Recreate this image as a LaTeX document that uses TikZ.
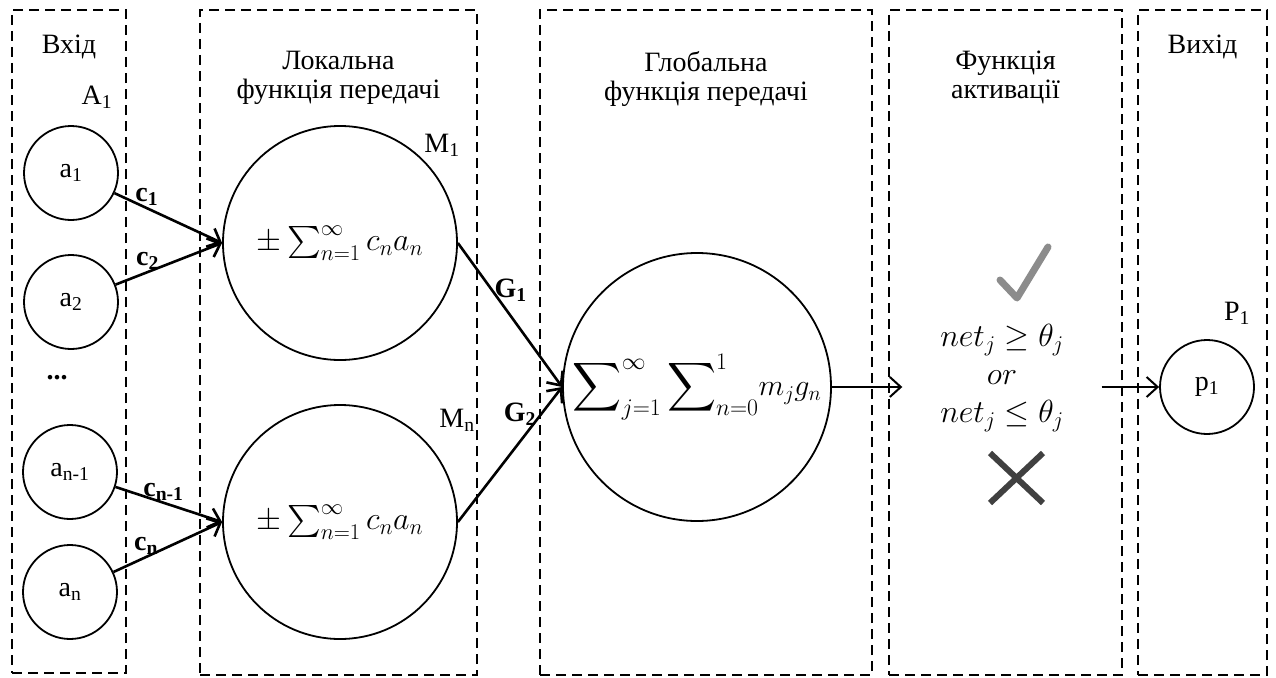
\RequirePackage{fix-cm}
\documentclass[tikz,border=0pt]{standalone}
\DeclareFontShape{OMX}{cmex}{m}{n}{<-> cmex10}{}
\usepackage{fontspec}
\setmainfont{Liberation Serif}
\usetikzlibrary{positioning, arrows.meta}

\begin{document}
\begin{tikzpicture}[x=1pt, y=-1pt, node distance=20pt,
    >={Straight Barb[length=11pt,width=20pt]}]

% Стилі
\tikzstyle{box} = [rectangle, draw, line width=2.2pt,
    dash pattern=on 10pt off 6pt, inner sep=0pt]
\tikzstyle{title} = [font=\fontsize{28}{29}\selectfont, align=center, inner sep=0pt]
\tikzstyle{neuron} = [circle, draw, line width=1.8pt, inner sep=0pt,
    font=\fontsize{28}{30}\selectfont]
\tikzstyle{lbl} = [font=\fontsize{28}{30}\selectfont, inner sep=1pt]
\tikzstyle{wlbl} = [font=\bfseries\fontsize{28}{30}\selectfont, inner sep=1pt]
\tikzstyle{arrow} = [line width=2.6pt, ->]

\useasboundingbox (0,0) rectangle (1276,677);

% Блоки
\node (inbox) [box, minimum width=114, minimum height=663] at (69,341.5) {};
\node (locbox) [box, minimum width=277, minimum height=665] at (338.5,342.5) {};
\node (globbox) [box, minimum width=332, minimum height=665] at (706,342.5) {};
\node (actbox) [box, minimum width=233, minimum height=665] at (1005.5,342.5) {};
\node (outbox) [box, minimum width=129, minimum height=665] at (1202.5,342.5) {};

\node (intitle) [title, below=26pt of inbox.north] {Вхід};
\node (loctitle) [title, below=42pt of locbox.north] {Локальна\\функція передачі};
\node (globtitle) [title, below=42pt of globbox.north] {Глобальна\\функція передачі};
\node (acttitle) [title, below=42pt of actbox.north] {Функція\\активації};
\node (outtitle) [title, below=26pt of outbox.north] {Вихід};

% Нейрони
\node (a1) [neuron, minimum size=94] at (71,173) {a\textsubscript{1}};
\node (a2) [neuron, minimum size=94] at (71,302) {a\textsubscript{2}};
\node (dots) [lbl] at (57,378) {\textbf{...}};
\node (an1) [neuron, minimum size=94] at (70,472) {a\textsubscript{n-1}};
\node (an) [neuron, minimum size=94] at (70,592) {a\textsubscript{n}};
\node (A1) [lbl] at (97,97) {A\textsubscript{1}};

\node (m1) [neuron, minimum size=234, font=\fontsize{32}{34}\selectfont] at (340,243)
    {$\pm\sum_{n=1}^{\infty}c_na_n$};
\node (mn) [neuron, minimum size=234, font=\fontsize{32}{34}\selectfont] at (340,522)
    {$\pm\sum_{n=1}^{\infty}c_na_n$};
\node (M1) [lbl] at (442,145) {M\textsubscript{1}};
\node (Mn) [lbl] at (457,420) {M\textsubscript{n}};

\node (g) [neuron, minimum size=268, font=\fontsize{34}{36}\selectfont] at (697,387)
    {$\displaystyle\sum\nolimits_{j=1}^{\infty}\sum\nolimits_{n=0}^{1}$%
     \fontsize{30}{32}\selectfont$m_jg_n$};

\node (act) [lbl, align=center, minimum width=199, inner sep=0pt,
    font=\fontsize{32}{38}\selectfont] at (1002,378)
    {$net_j \geq \theta_j$\\ $or$\\ $net_j \leq \theta_j$};

\node (p1) [neuron, minimum size=94] at (1207,387) {p\textsubscript{1}};
\node (P1) [lbl] at (1237,313) {P\textsubscript{1}};

% Стрілки
\draw [arrow] (a1) -- (m1.west) node[wlbl, pos=.3, above] {c\textsubscript{1}};
\draw [arrow] (a2) -- (m1.west) node[wlbl, pos=.3, above] {c\textsubscript{2}};
\draw [arrow] (an1) -- (mn.west) node[wlbl, pos=.45, above] {c\textsubscript{n-1}};
\draw [arrow] (an) -- (mn.west) node[wlbl, pos=.3, above] {c\textsubscript{n}};
\draw [arrow] (m1.east) -- (g.west) node[wlbl, pos=.33, right] {G\textsubscript{1}};
\draw [arrow] (mn.east) -- (g.west) node[wlbl, pos=.8, left, xshift=-3pt] {G\textsubscript{2}};
\draw [->, line width=2pt] (g) -- (g -| act.west);
\draw [->, line width=2pt] (act.east |- p1) -- (p1);

% Так / ні
\draw [line width=7pt, black!45, line cap=round, line join=round]
    (1000,280) -- (1017,298) -- (1048,247);
\draw [line width=6pt, black!75] (990,453) -- (1043,503) (1043,453) -- (990,503);

\end{tikzpicture}
\end{document}
